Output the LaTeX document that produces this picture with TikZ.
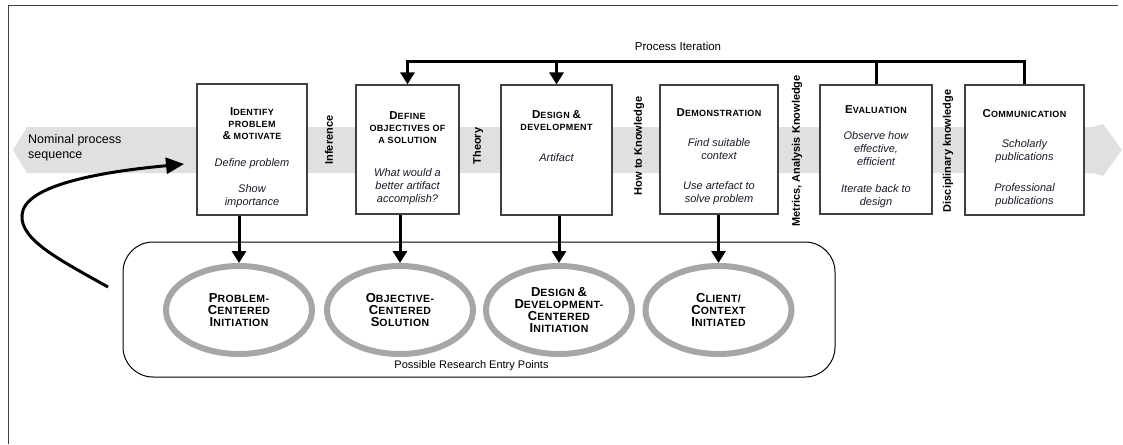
\documentclass[tikz,border=0pt]{standalone}
\usepackage{fontspec}
\setmainfont{Liberation Sans}
\usetikzlibrary{shapes.geometric,arrows.meta}
\definecolor{bandgray}{HTML}{E0E0E0}
\definecolor{ringgray}{HTML}{A6A6A6}
\definecolor{boxline}{HTML}{404040}
\definecolor{txt}{HTML}{1A1A2A}
\newfontfamily\scfont[LetterSpace=4]{Liberation Sans}
\newcommand\bsc[2]{{\scfont\bfseries\fontsize{11.5}{14}\selectfont #1}{\scfont\bfseries\fontsize{9}{14}\selectfont #2}}
\newcommand\esc[2]{{\scfont\bfseries\fontsize{13}{14.5}\selectfont #1}{\scfont\bfseries\fontsize{10.5}{14.5}\selectfont #2}}
\begin{document}
\begin{tikzpicture}[x=1pt,y=-1pt,
  stepbox/.style={draw=boxline,line width=1.2pt,fill=white,inner sep=0},
  ttl/.style={font=\bfseries,align=center,inner sep=0,text=black},
  body/.style={font=\fontsize{11}{13}\selectfont\itshape,align=center,inner sep=0,text=txt},
  vlab/.style={font=\fontsize{11}{13}\selectfont\bfseries,rotate=90,inner sep=0},
  ring/.style={ellipse,draw=ringgray,line width=6pt,minimum width=146,minimum height=88,inner sep=0,font=\bfseries,align=center},
  arr/.style={line width=3pt,-{Triangle[width=14pt,length=12pt]}},
  thk/.style={line width=3pt}]
\useasboundingbox (0,0) rectangle (1123,444);
% frame
\draw[boxline,line width=1pt] (8,444) -- (8,6) -- (1118,6);
% band
\fill[bandgray] (13,150) -- (27,127) -- (1093,127) -- (1103,124) -- (1122,150) -- (1103,176) -- (1093,173) -- (27,173) -- cycle;
\node[anchor=west,align=left,inner sep=0,font=\fontsize{12.5}{15}\selectfont] (nps) at (28,147.5) {Nominal process\\sequence};
% boxes
\node[stepbox,minimum width=110,minimum height=131] (b1) at (252,149.5) {};
\node[stepbox,minimum width=103,minimum height=129] (b2) at (407.5,149.5) {};
\node[stepbox,minimum width=111,minimum height=130] (b3) at (556.5,150) {};
\node[stepbox,minimum width=118,minimum height=129] (b4) at (719,149.5) {};
\node[stepbox,minimum width=112,minimum height=129] (b5) at (876,149.5) {};
\node[stepbox,minimum width=119,minimum height=130] (b6) at (1024.5,150) {};
% box texts
\node[ttl] (t1) at (252,124) {\bsc{I}{DENTIFY}\\\bsc{}{PROBLEM}\\\bsc{\&}{ MOTIVATE}};
\node[body] (d1a) at (252,164) {Define problem};
\node[body] (d1b) at (252,196.5) {Show\\importance};
\node[ttl] (t2) at (407.5,128) {\bsc{D}{EFINE}\\\bsc{}{OBJECTIVES OF}\\\bsc{}{A SOLUTION}};
\node[body] (d2) at (407.5,186.5) {What would a\\better artifact\\accomplish?};
\node[ttl] (t3) at (556.5,121) {\bsc{D}{ESIGN} \bsc{\&}{}\\\bsc{}{DEVELOPMENT}};
\node[body] (d3) at (556.5,158) {Artifact};
\node[ttl] (t4) at (719,113) {\bsc{D}{EMONSTRATION}};
\node[body] (d4a) at (719,149) {Find suitable\\context};
\node[body] (d4b) at (719,193) {Use artefact to\\solve problem};
\node[ttl] (t5) at (876,110) {\bsc{E}{VALUATION}};
\node[body] (d5a) at (876,149) {Observe how\\effective,\\efficient};
\node[body] (d5b) at (876,196.5) {Iterate back to\\design};
\node[ttl] (t6) at (1024.5,114) {\bsc{C}{OMMUNICATION}};
\node[body] (d6a) at (1024.5,151) {Scholarly\\publications};
\node[body] (d6b) at (1024.5,195) {Professional\\publications};
% vertical labels
\node[vlab] (v1) at (329,140) {Inference};
\node[vlab] (v2) at (478,146) {Theory};
\node[vlab] (v3) at (639,146) {How to Knowledge};
\node[vlab] (v4) at (797,151) {Metrics, Analysis Knowledge};
\node[vlab] (v5) at (948,151) {Disciplinary knowledge};
% process iteration
\coordinate (pi) at (678,61);
\node[inner sep=0,font=\fontsize{11.5}{13}\selectfont] (pit) at (678,46) {Process Iteration};
\draw[thk] (b5.north) -- (b5.north |- pi);
\draw[arr] (b6.north) -- (b6.north |- pi) -- (b2.north |- pi) -- (b2.north);
\draw[arr] (b3.north |- pi) -- (b3.north);
% entry points
\node[draw,line width=1pt,rounded corners=30,minimum width=712,minimum height=135,inner sep=0] (entry) at (479,309.5) {};
\node[inner sep=0,font=\fontsize{11}{13}\selectfont] (ept) at (471.5,366) {Possible Research Entry Points};
\node[ring] (e1) at (239,310) {\esc{P}{ROBLEM-}\\\esc{C}{ENTERED}\\\esc{I}{NITIATION}};
\node[ring] (e2) at (400,310) {\esc{O}{BJECTIVE-}\\\esc{C}{ENTERED}\\\esc{S}{OLUTION}};
\node[ring] (e3) at (559,310) {\esc{D}{ESIGN} \esc{\&}{}\\\esc{D}{EVELOPMENT-}\\\esc{C}{ENTERED}\\\esc{I}{NITIATION}};
\node[ring] (e4) at (718.5,310) {\esc{C}{LIENT/}\\\esc{C}{ONTEXT}\\\esc{I}{NITIATED}};
\draw[arr] (e1.north |- b1.south) -- (e1.north);
\draw[arr] (e2.north |- b2.south) -- (e2.north);
\draw[arr] (e3.north |- b3.south) -- (e3.north);
\draw[arr] (e4.north |- b4.south) -- (e4.north);
% curved entry arrow
\coordinate (cs) at (108,287);
\coordinate (ct) at (184,164);
\draw[line width=3pt,-{Triangle[width=16pt,length=18pt]}] (cs) .. controls (60,260) and (20,240) .. (22,215) .. controls (24,185) and (100,172) .. (ct);
\end{tikzpicture}
\end{document}
